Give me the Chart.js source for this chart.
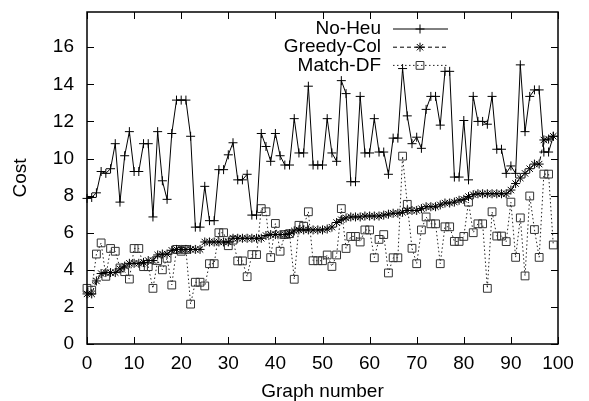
<!DOCTYPE html>
<html lang="en">
<head>
<meta charset="utf-8">
<title>Cost per graph</title>
<script src="https://cdn.jsdelivr.net/npm/chart.js"></script>
<style>
  html, body { margin: 0; padding: 0; background: #fff; }
  #costchart { display: block; }
</style>
</head>
<body>
<canvas id="costchart" width="589" height="401"></canvas>
<script>
// cost of each graph, index = graph number (sorted by Greedy-Col cost)
const noHeu = [7.85, 7.9, 8.15, 9.3, 9.2, 9.45, 10.8, 7.65, 10.15, 11.45,
  9.3, 9.3, 10.8, 10.8, 6.85, 11.45, 8.8, 7.8, 11.35, 13.15,
  13.15, 13.15, 11.2, 6.3, 6.3, 8.5, 6.65, 6.65, 9.4, 9.4,
  10.2, 10.85, 8.85, 8.85, 9.15, 6.95, 6.95, 11.35, 10.65, 9.85,
  11.35, 10.15, 9.65, 9.65, 12.15, 10.3, 10.3, 13.9, 9.65, 9.65,
  9.65, 12.15, 10.3, 9.85, 14.2, 13.5, 8.75, 8.75, 13.35, 10.3,
  10.3, 12.15, 10.35, 10.35, 9.15, 11.1, 11.1, 14.85, 12.3, 10.8,
  11.15, 10.55, 12.65, 13.35, 13.35, 11.8, 14.7, 14.7, 9.0, 9.0,
  12.05, 8.85, 13.35, 12.0, 12.0, 11.85, 13.35, 10.5, 10.5, 9.2,
  9.6, 9.2, 15.05, 11.45, 13.35, 13.7, 13.7, 10.35, 10.35, 11.2];

const greedyCol = [2.7, 2.7, 3.4, 3.8, 3.85, 3.85, 3.85, 4.05, 4.2, 4.35,
  4.35, 4.35, 4.4, 4.5, 4.5, 4.8, 4.85, 4.85, 5.05, 5.1,
  5.1, 5.1, 5.1, 5.1, 5.1, 5.5, 5.5, 5.5, 5.5, 5.5,
  5.5, 5.7, 5.7, 5.7, 5.7, 5.7, 5.7, 5.7, 5.85, 5.9,
  5.9, 5.9, 5.9, 5.95, 6.1, 6.15, 6.15, 6.15, 6.15, 6.15,
  6.15, 6.2, 6.3, 6.55, 6.7, 6.8, 6.85, 6.85, 6.85, 6.9,
  6.9, 6.9, 6.9, 6.95, 7.0, 7.05, 7.05, 7.1, 7.2, 7.2,
  7.2, 7.3, 7.4, 7.4, 7.4, 7.5, 7.6, 7.6, 7.65, 7.75,
  7.8, 7.95, 8.05, 8.1, 8.1, 8.1, 8.1, 8.1, 8.1, 8.1,
  8.3, 8.65, 8.95, 9.2, 9.45, 9.7, 9.7, 11.0, 11.05, 11.2];

const matchDF = [3.0, 2.9, 4.85, 5.45, 3.65, 5.15, 5.0, 4.1, 3.9, 3.5,
  5.15, 5.15, 4.17, 4.17, 3.0, 4.5, 4.0, 4.62, 3.18, 5.1,
  5.0, 5.1, 2.15, 3.33, 3.33, 3.13, 4.33, 4.33, 6.0, 6.0,
  5.3, 5.6, 4.48, 4.48, 3.63, 4.82, 4.82, 7.3, 7.13, 4.66,
  6.5, 5.0, 5.9, 5.95, 3.49, 6.4, 6.35, 7.13, 4.49, 4.49,
  4.49, 4.8, 4.18, 4.8, 7.3, 5.15, 5.8, 5.8, 5.5, 6.15,
  6.15, 4.65, 5.64, 5.9, 3.83, 4.65, 4.65, 10.13, 7.53, 5.16,
  4.33, 6.15, 6.85, 6.48, 6.48, 4.33, 6.32, 6.32, 5.53, 5.53,
  5.8, 7.65, 6.0, 6.48, 6.48, 3.0, 7.13, 5.82, 5.82, 5.52,
  7.65, 4.67, 6.8, 3.67, 7.98, 6.17, 4.67, 9.16, 9.16, 5.34];

const seriesNames = ['No-Heu', 'Greedy-Col', 'Match-DF'];
const xTicks = [0, 10, 20, 30, 40, 50, 60, 70, 80, 90, 100];
const yTicks = [0, 2, 4, 6, 8, 10, 12, 14, 16];

const FONT = '"Liberation Sans", Arial, Helvetica, sans-serif';

function points(values) {
  return values.map((v, i) => ({ x: i, y: v }));
}

// gnuplot style key: label on the left, line sample with a marker on the right
function drawMarker(ctx, style, x, y, r) {
  ctx.beginPath();
  if (style === 'rect') {
    const s = Math.SQRT1_2 * r;
    ctx.rect(x - s, y - s, 2 * s, 2 * s);
  } else {
    ctx.moveTo(x - r, y); ctx.lineTo(x + r, y);
    ctx.moveTo(x, y - r); ctx.lineTo(x, y + r);
    if (style === 'star') {
      const d = Math.SQRT1_2 * r;
      ctx.moveTo(x - d, y - d); ctx.lineTo(x + d, y + d);
      ctx.moveTo(x - d, y + d); ctx.lineTo(x + d, y - d);
    }
  }
  ctx.stroke();
}

const gnuKey = {
  id: 'gnuKey',
  afterDatasetsDraw(chart) {
    const ctx = chart.ctx;
    ctx.save();
    ctx.font = '19px ' + FONT;
    ctx.textAlign = 'right';
    ctx.textBaseline = 'middle';
    chart.data.datasets.forEach((ds, i) => {
      const y = 29 + i * 18.2;
      ctx.fillStyle = '#000';
      ctx.fillText(ds.label, 381, y);
      ctx.strokeStyle = ds.borderColor;
      ctx.lineWidth = 1;
      ctx.setLineDash(ds.borderDash || []);
      ctx.beginPath();
      ctx.moveTo(393, y);
      ctx.lineTo(448, y);
      ctx.stroke();
      ctx.setLineDash([]);
      ctx.strokeStyle = ds.pointBorderColor;
      drawMarker(ctx, ds.pointStyle, 420, y, ds.pointRadius);
    });
    ctx.restore();
  }
};

// border with inward ticks on all four sides
const gnuFrame = {
  id: 'gnuFrame',
  afterDraw(chart) {
    const { ctx, chartArea: a, scales } = chart;
    const tl = 7;
    ctx.save();
    ctx.strokeStyle = '#000';
    ctx.lineWidth = 1;
    ctx.beginPath();
    xTicks.forEach(v => {
      const px = Math.round(scales.x.getPixelForValue(v)) + 0.5;
      ctx.moveTo(px, a.bottom); ctx.lineTo(px, a.bottom - tl);
      ctx.moveTo(px, a.top); ctx.lineTo(px, a.top + tl);
    });
    yTicks.forEach(v => {
      const py = Math.round(scales.y.getPixelForValue(v)) + 0.5;
      ctx.moveTo(a.left, py); ctx.lineTo(a.left + tl, py);
      ctx.moveTo(a.right, py); ctx.lineTo(a.right - tl, py);
    });
    ctx.stroke();
    ctx.lineWidth = 1.5;
    ctx.strokeRect(a.left, a.top, a.right - a.left, a.bottom - a.top);
    ctx.restore();
  }
};

const data = {
  datasets: [{
    label: seriesNames[0],
    data: points(noHeu),
    borderColor: '#000',
    borderWidth: 1,
    pointStyle: 'cross',
    pointRadius: 4.5,
    pointBorderColor: '#000',
    pointBorderWidth: 1,
    pointBackgroundColor: 'rgba(0,0,0,0)'
  }, {
    label: seriesNames[1],
    data: points(greedyCol),
    borderColor: '#000',
    borderWidth: 1,
    borderDash: [4, 3],
    pointStyle: 'star',
    pointRadius: 4.5,
    pointBorderColor: '#000',
    pointBorderWidth: 1,
    pointBackgroundColor: 'rgba(0,0,0,0)'
  }, {
    label: seriesNames[2],
    data: points(matchDF),
    borderColor: '#222',
    borderWidth: 1,
    borderDash: [1.5, 2.5],
    pointStyle: 'rect',
    pointRadius: 5.5,
    pointBorderColor: '#333',
    pointBorderWidth: 1,
    pointBackgroundColor: 'rgba(0,0,0,0)'
  }]
};

const config = {
  type: 'line',
  data: data,
  options: {
    responsive: false,
    animation: false,
    events: [],
    clip: false,
    layout: { padding: { top: 12, right: 31, left: 0, bottom: 0 } },
    elements: { line: { tension: 0, fill: false } },
    plugins: { legend: { display: false }, tooltip: { enabled: false } },
    scales: {
      x: {
        type: 'linear',
        min: 0,
        max: 100,
        afterFit(scale) {
          scale.height = 57;
          scale.paddingLeft = 0;
          scale.paddingRight = 0;
        },
        afterBuildTicks(scale) { scale.ticks = xTicks.map(v => ({ value: v })); },
        grid: { display: false, drawTicks: false },
        border: { display: false },
        ticks: { padding: 8, color: '#000', maxRotation: 0, autoSkip: false, font: { family: FONT, size: 19 } },
        title: { display: true, text: 'Graph number', color: '#000', padding: 0,
                 font: { family: FONT, size: 19, lineHeight: 1 } }
      },
      y: {
        type: 'linear',
        min: 0,
        max: 17.9,
        afterFit(scale) {
          scale.width = 87;
          scale.paddingTop = 0;
          scale.paddingBottom = 0;
        },
        afterBuildTicks(scale) { scale.ticks = yTicks.map(v => ({ value: v })); },
        grid: { display: false, drawTicks: false },
        border: { display: false },
        ticks: { padding: 13, color: '#000', font: { family: FONT, size: 19 } },
        title: { display: true, text: 'Cost', color: '#000', padding: { top: 9, bottom: 0 },
                 font: { family: FONT, size: 19 } }
      }
    }
  },
  plugins: [gnuFrame, gnuKey]
};

const costChart = new Chart(document.getElementById('costchart'), config);
</script>
</body>
</html>
